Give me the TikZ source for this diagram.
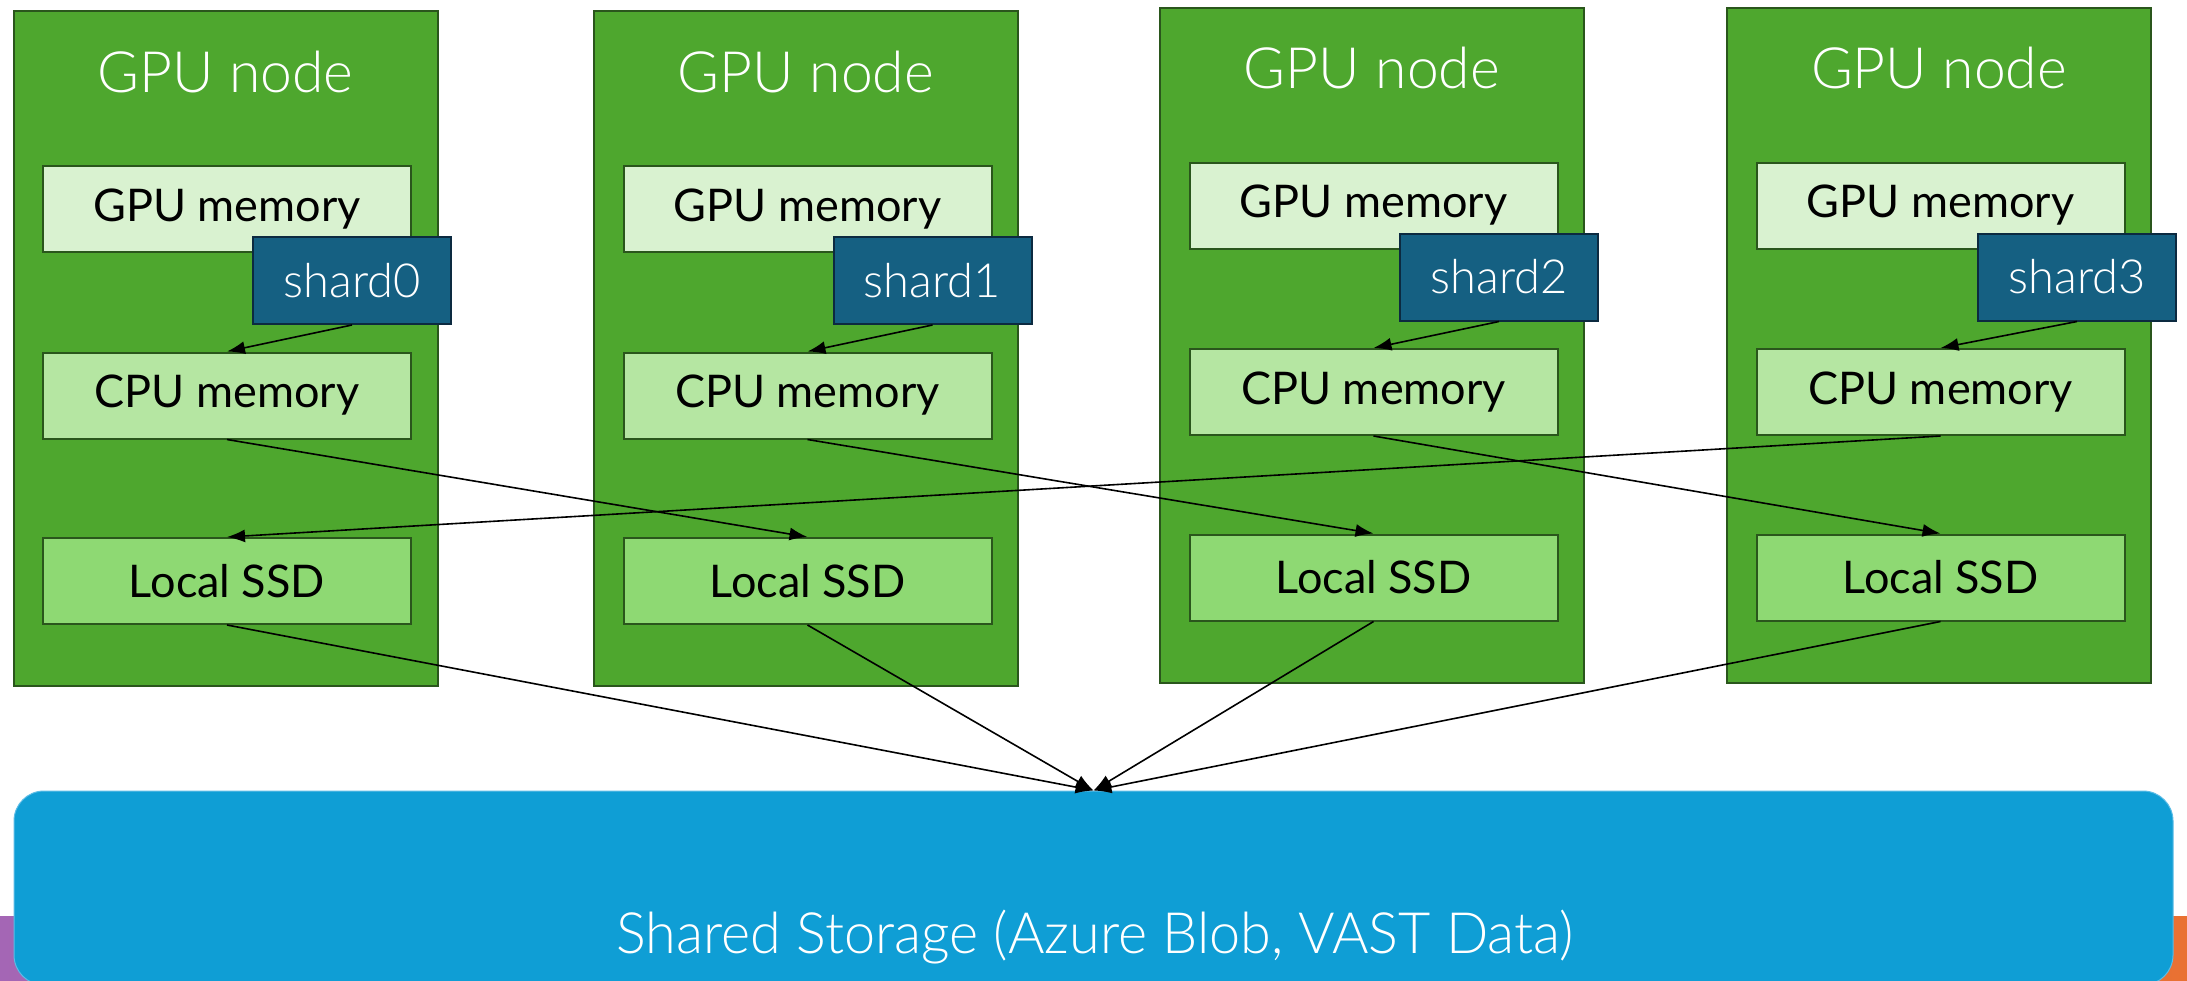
\documentclass[tikz,border=0pt]{standalone}
\usepackage{graphicx}
\usepackage{fontspec}
\setmainfont{Lato}
\newfontfamily\lightfont{Lato Light}
\usetikzlibrary{arrows.meta}

\definecolor{nodegreen}{HTML}{4EA72E}
\definecolor{nodeedge}{HTML}{2A561C}
\definecolor{gpumem}{HTML}{D9F2D0}
\definecolor{cpumem}{HTML}{B5E6A2}
\definecolor{ssdfill}{HTML}{8ED973}
\definecolor{shardfill}{HTML}{156082}
\definecolor{shardedge}{HTML}{0C2A40}
\definecolor{storefill}{HTML}{0F9ED5}
\definecolor{storeedge}{HTML}{5CBCE6}
\definecolor{barpurple}{HTML}{A466B5}
\definecolor{barorange}{HTML}{E97132}

\begin{document}
\begin{tikzpicture}[x=1pt,y=-1pt,
  gpunode/.style={draw=nodeedge, line width=2pt, fill=nodegreen,
    minimum width=424pt, minimum height=675pt, inner sep=0pt},
  nodetitle/.style={text=white, inner sep=0pt, anchor=base,
    font=\lightfont\fontsize{57pt}{60pt}\selectfont},
  membox/.style={draw=nodeedge, line width=2pt, inner sep=0pt,
    minimum width=368pt, minimum height=86pt, text=black,
    font=\fontsize{45pt}{50pt}\selectfont},
  gpubox/.style={membox, fill=gpumem},
  cpubox/.style={membox, fill=cpumem},
  ssdbox/.style={membox, fill=ssdfill},
  shardbox/.style={draw=shardedge, line width=2pt, fill=shardfill,
    minimum width=198pt, minimum height=87pt, inner sep=0pt, text=white,
    font=\lightfont\fontsize{47pt}{50pt}\selectfont},
  storebox/.style={draw=storeedge, line width=1pt, fill=storefill,
    rounded corners=30pt, minimum width=2159pt, minimum height=194pt,
    inner sep=0pt},
  conn/.style={-{Latex[length=18pt,width=13pt]}, line width=1.6pt, black}
]
\useasboundingbox (0,0) rectangle (2187,980);

% footer bar behind the storage block
\shade[left color=barpurple, right color=barorange] (0,916) rectangle (2187,980);

% shared storage
\node[storebox] (storage) at (1093.5,888) {};
\node[text=white, inner sep=0pt, anchor=base,
  font=\lightfont\fontsize{57pt}{60pt}\selectfont] (storagetext) at (1095,953)
  {\resizebox{957pt}{\height}{Shared Storage (Azure Blob, VAST Data)}};

% the four GPU nodes
\foreach \i/\cx/\dy/\sx in {1/225.5/0/352, 2/806/0/932.5, 3/1372/3.5/1499, 4/1939/3.5/2077} {
  \node[gpunode] (node\i) at (\cx,348.5-\dy) {};
  \node[nodetitle] (title\i) at (\cx,92-\dy) {GPU node};
  \node[gpubox] (gpu\i) at (\cx+1.5,209-\dy) {GPU memory};
  \node[cpubox] (cpu\i) at (\cx+1.5,395.5-\dy) {CPU memory};
  \node[ssdbox] (ssd\i) at (\cx+1.5,581-\dy) {Local SSD};
  \node[shardbox] (shard\i) at (\sx,280.5-\dy) {shard\the\numexpr\i-1\relax};
}

% shard -> CPU memory inside each node
\foreach \i in {1,2,3,4} {
  \draw[conn] (shard\i.south) -- (cpu\i.north);
}

% CPU memory -> local SSD of the next node (ring)
\foreach \a/\b in {1/2, 2/3, 3/4, 4/1} {
  \draw[conn] (cpu\a.south) -- (ssd\b.north);
}

% local SSD -> shared storage
\foreach \i in {1,2,3,4} {
  \draw[conn] (ssd\i.south) -- (storage.north);
}
\end{tikzpicture}
\end{document}
